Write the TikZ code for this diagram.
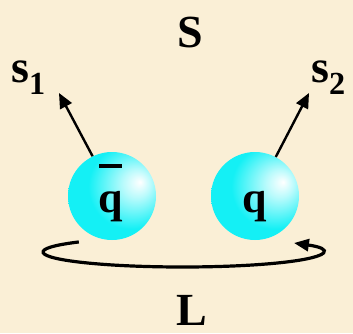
\documentclass[tikz,border=0pt]{standalone}
\usepackage{fontspec}
\setmainfont{Liberation Serif}
\usetikzlibrary{arrows.meta}
\definecolor{bgbeige}{RGB}{250,239,214}
\definecolor{ballcyan}{RGB}{20,240,245}
\pgfdeclareradialshading{qball}{\pgfpoint{16bp}{8bp}}{%
  color(0bp)=(white);
  color(8bp)=(white!70!ballcyan);
  color(24bp)=(ballcyan);
  color(70bp)=(ballcyan)}
\begin{document}
\begin{tikzpicture}[x=1pt,y=1pt,
  ball/.style={circle,minimum size=88pt,inner sep=0pt,shading=qball},
  lbl/.style={font=\fontsize{46}{46}\selectfont\bfseries,inner sep=0pt},
  qlbl/.style={font=\fontsize{44}{44}\selectfont\bfseries,inner sep=0pt,anchor=base},
  spin/.style={line width=2.4pt,-{Triangle[length=15pt,width=13pt]}},
  orbit/.style={line width=3.2pt,-{Triangle[length=15pt,width=12pt]}}]
\useasboundingbox[fill=bgbeige] (0,0) rectangle (353,333);
% orbit (behind the balls)
\coordinate (oc) at (182.5,81);
\draw[orbit] ([shift={(138:139.5 and 15)}]oc) arc[start angle=138,end angle=397,x radius=139.5,y radius=15];
% balls
\node[ball] (lq) at (112,137) {};
\node[ball] (rq) at (255,137) {};
\node[qlbl] (lqt) at (111,121) {q};
\node[qlbl] (rqt) at (255,121) {q};
\draw[line width=4pt] (99,167) -- (122,167);
% spins
\coordinate (s1tip) at (59,240);
\coordinate (s2tip) at (309,240);
\draw[spin] (lq.116) -- (s1tip);
\draw[spin] (rq.62) -- (s2tip);
% labels
\node[lbl,anchor=base] (S) at (190,286) {S};
\node[lbl,anchor=base west] (s1) at (11,251) {s\textsubscript{1}};
\node[lbl,anchor=base west] (s2) at (311,251) {s\textsubscript{2}};
\node[lbl,anchor=base] (L) at (192,8) {L};
\end{tikzpicture}
\end{document}
